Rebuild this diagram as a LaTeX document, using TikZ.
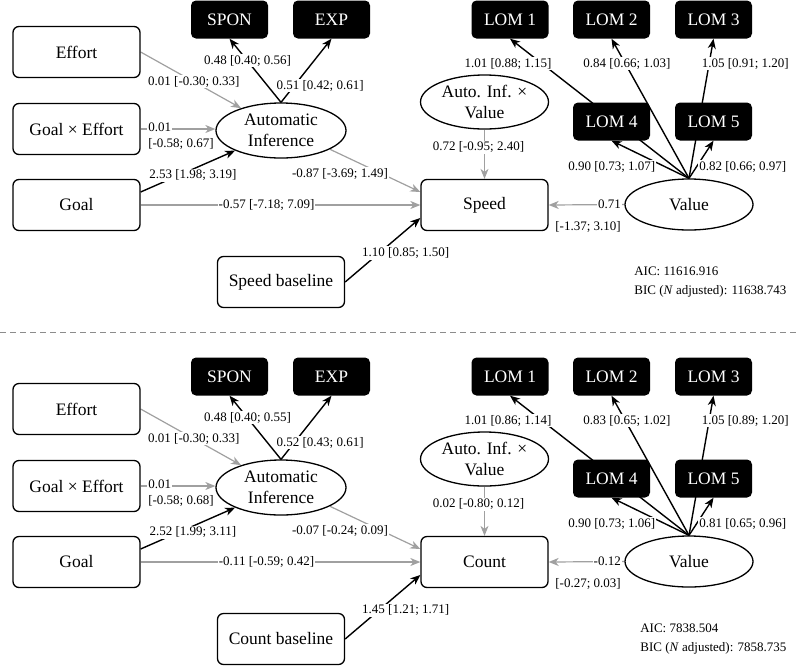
\documentclass[tikz,border=0pt]{standalone}
\usepackage{fontspec}
\setmainfont{Liberation Serif}
\usetikzlibrary{shapes.geometric,arrows.meta,backgrounds}

\definecolor{edgegrey}{RGB}{160,160,160}
\definecolor{sepgrey}{RGB}{140,140,140}
\newcommand{\boxfont}{\fontsize{17.5}{21}\selectfont}
\newcommand{\labfont}{\fontsize{13}{15.6}\selectfont}

\tikzset{
    manifest/.style={draw, rounded corners=6pt, line width=1.3pt, minimum width=127pt, minimum height=51pt, inner sep=0pt, font=\boxfont},
    indicator/.style={fill=black, text=white, rounded corners=5pt, minimum width=77pt, minimum height=38pt, inner sep=0pt, font=\boxfont},
    latent/.style={draw, ellipse, line width=1.3pt, minimum width=128pt, minimum height=54pt, inner sep=0pt, align=center, font=\boxfont},
    sig/.style={line width=1.4pt, -{Stealth[length=10pt,width=8pt,inset=3pt]}},
    nonsig/.style={sig, draw=edgegrey, line width=1.2pt},
    coef/.style={fill=white, inner sep=1pt, font=\labfont},
    separator/.style={draw=sepgrey, line width=1pt, dash pattern=on 6pt off 4pt},
}

\begin{document}
\begin{tikzpicture}[x=1pt,y=-1pt]
    \useasboundingbox (0,0) rectangle (800,665);

    % one panel per outcome, the lower one 357pt further down
    \foreach \p/\dy/\out/\aic/\bic in {S/0/Speed/11616.916/11638.743, C/357/Count/7838.504/7858.735} {
        \begin{scope}[shift={(0,\dy)}]
            \node[manifest] (effort\p)  at (76.5,52)  {Effort};
            \node[manifest] (goaleff\p) at (76.5,129) {Goal × Effort};
            \node[manifest] (goal\p)    at (76.5,205) {Goal};
            \node[manifest] (base\p)    at (281,282)  {\out\ baseline};
            \node[manifest] (out\p)     at (484.5,205) {\out};

            \node[indicator] (spon\p) at (229.5,19.5) {SPON};
            \node[indicator] (exp\p)  at (331.5,19.5) {EXP};
            \node[indicator] (lom1\p) at (510,19.5)   {LOM 1};
            \node[indicator] (lom2\p) at (611.5,19.5) {LOM 2};
            \node[indicator] (lom3\p) at (713.5,19.5) {LOM 3};
            \node[indicator] (lom4\p) at (611.5,121.5) {LOM 4};
            \node[indicator] (lom5\p) at (713.5,121.5) {LOM 5};

            \node[latent, minimum width=130pt, minimum height=55pt] (ai\p) at (281,130.5) {Automatic\\Inference};
            \node[latent] (aiv\p)   at (484.5,102) {Auto. Inf. ×\\Value};
            \node[latent, minimum height=51pt] (value\p) at (689,204.5) {Value};

            \node[font=\fontsize{13}{19}\selectfont, align=left, anchor=east] (fit\p) at (790,282.5)
                {AIC: \aic\\BIC (\textit{N} adjusted): \bic};
        \end{scope}
    }

    \coordinate (sepL) at (0,332);
    \coordinate (sepR) at (800,332);
    \draw[separator] (sepL) -- (sepR);

    \begin{pgfonlayer}{background}
        % speed
        \draw[nonsig] (effortS.east) -- (aiS) node[coef, pos=0.53] {0.01 [-0.30; 0.33]};
        \draw[nonsig] (goaleffS.east) -- (goaleffS.east -| aiS.west)
            node[coef, pos=0, anchor=west, xshift=6pt, yshift=2pt] {0.01}
            node[coef, pos=0, anchor=west, xshift=6pt, yshift=-15pt, fill=none] {[-0.58; 0.67]};
        \draw[sig] ([yshift=13pt]goalS.east) -- (aiS) node[coef, pos=0.5, xshift=5pt, yshift=-4pt] {2.53 [1.98; 3.19]};
        \draw[sig] (aiS.north) -- (sponS.south) node[coef, pos=0.65] {0.48 [0.40; 0.56]};
        \draw[sig] (aiS.north) -- (expS.south) node[coef, pos=0.26, xshift=26pt] {0.51 [0.42; 0.61]};
        \draw[nonsig] (aiS.-21) -- ([yshift=13pt]outS.west) node[coef, pos=0.2, xshift=-8pt, yshift=-16pt] {-0.87 [-3.69; 1.49]};
        \draw[nonsig] (goalS.east) -- (outS.west) node[coef, pos=0.45] {-0.57 [-7.18; 7.09]};
        \draw[sig] (baseS.east) -- ([yshift=-13pt]outS.west) node[coef, pos=0.5, xshift=23pt, yshift=-3pt] {1.10 [0.85; 1.50]};
        \draw[nonsig] (aivS.south) -- (outS.north) node[coef, pos=0.36, xshift=-6pt] {0.72 [-0.95; 2.40]};
        \draw[nonsig] (valueS.west) -- (outS.east)
            node[coef, pos=0, anchor=east, xshift=-2pt] {0.71}
            node[coef, pos=0, anchor=east, xshift=-2pt, yshift=-22pt, fill=none] {[-1.37; 3.10]};
        \draw[sig] (valueS.north) -- (lom1S.south) node[coef, pos=0.82, anchor=east, xshift=11pt] {1.01 [0.88; 1.15]};
        \draw[sig] (valueS.north) -- (lom2S.south) node[coef, pos=0.82, xshift=1.5pt] {0.84 [0.66; 1.03]};
        \draw[sig] (valueS.north) -- (lom3S.south) node[coef, pos=0.82, anchor=west, xshift=-9pt] {1.05 [0.91; 1.20]};
        \draw[sig] (valueS.north) -- (lom4S.south) node[coef, pos=0.31, anchor=east, xshift=-8pt] {0.90 [0.73; 1.07]};
        \draw[sig] (valueS.north) -- (lom5S.south) node[coef, pos=0.31, anchor=west, xshift=1pt] {0.82 [0.66; 0.97]};

        % count
        \draw[nonsig] (effortC.east) -- (aiC) node[coef, pos=0.53] {0.01 [-0.30; 0.33]};
        \draw[nonsig] (goaleffC.east) -- (goaleffC.east -| aiC.west)
            node[coef, pos=0, anchor=west, xshift=6pt, yshift=2pt] {0.01}
            node[coef, pos=0, anchor=west, xshift=6pt, yshift=-15pt, fill=none] {[-0.58; 0.68]};
        \draw[sig] ([yshift=13pt]goalC.east) -- (aiC) node[coef, pos=0.5, xshift=5pt, yshift=-4pt] {2.52 [1.99; 3.11]};
        \draw[sig] (aiC.north) -- (sponC.south) node[coef, pos=0.65] {0.48 [0.40; 0.55]};
        \draw[sig] (aiC.north) -- (expC.south) node[coef, pos=0.26, xshift=26pt] {0.52 [0.43; 0.61]};
        \draw[nonsig] (aiC.-21) -- ([yshift=13pt]outC.west) node[coef, pos=0.2, xshift=-8pt, yshift=-16pt] {-0.07 [-0.24; 0.09]};
        \draw[nonsig] (goalC.east) -- (outC.west) node[coef, pos=0.45] {-0.11 [-0.59; 0.42]};
        \draw[sig] (baseC.east) -- ([yshift=-13pt]outC.west) node[coef, pos=0.5, xshift=23pt, yshift=-3pt] {1.45 [1.21; 1.71]};
        \draw[nonsig] (aivC.south) -- (outC.north) node[coef, pos=0.36, xshift=-6pt] {0.02 [-0.80; 0.12]};
        \draw[nonsig] (valueC.west) -- (outC.east)
            node[coef, pos=0, anchor=east, xshift=-2pt] {-0.12}
            node[coef, pos=0, anchor=east, xshift=-2pt, yshift=-22pt, fill=none] {[-0.27; 0.03]};
        \draw[sig] (valueC.north) -- (lom1C.south) node[coef, pos=0.82, anchor=east, xshift=11pt] {1.01 [0.86; 1.14]};
        \draw[sig] (valueC.north) -- (lom2C.south) node[coef, pos=0.82, xshift=1.5pt] {0.83 [0.65; 1.02]};
        \draw[sig] (valueC.north) -- (lom3C.south) node[coef, pos=0.82, anchor=west, xshift=-9pt] {1.05 [0.89; 1.20]};
        \draw[sig] (valueC.north) -- (lom4C.south) node[coef, pos=0.31, anchor=east, xshift=-8pt] {0.90 [0.73; 1.06]};
        \draw[sig] (valueC.north) -- (lom5C.south) node[coef, pos=0.31, anchor=west, xshift=1pt] {0.81 [0.65; 0.96]};
    \end{pgfonlayer}
\end{tikzpicture}
\end{document}
